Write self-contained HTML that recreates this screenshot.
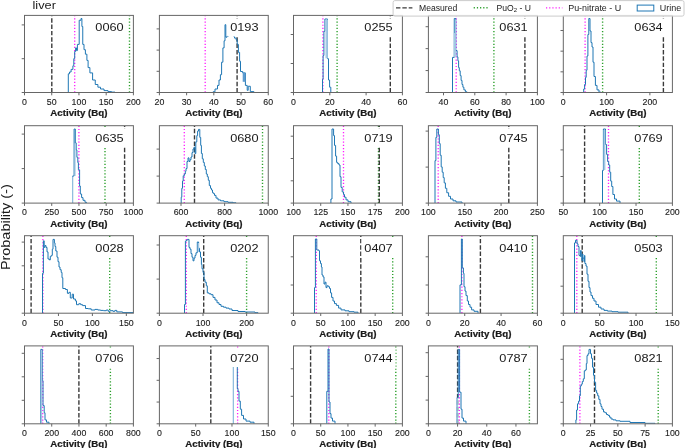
<!DOCTYPE html>
<html><head><meta charset="utf-8"><style>
html,body{margin:0;padding:0;background:#fff;}
body{width:685px;height:448px;overflow:hidden;}
svg{display:block;font-family:"Liberation Sans", sans-serif;will-change:transform;}
</style></head><body>
<svg width="685" height="448" viewBox="0 0 685 448">
<rect width="685" height="448" fill="#fff"/>
<clipPath id="c00"><rect x="24.5" y="15.4" width="108.9" height="77.1"/></clipPath>
<g clip-path="url(#c00)">
<line x1="51.8" y1="92.5" x2="51.8" y2="15.4" stroke="#3a3a3a" stroke-width="1.4" stroke-dasharray="4.43 1.92"/>
<line x1="74.7" y1="92.5" x2="74.7" y2="15.4" stroke="#ff1aff" stroke-width="1.3" stroke-dasharray="1.2 1.975"/>
<line x1="129.5" y1="92.5" x2="129.5" y2="15.4" stroke="#2ca02c" stroke-width="1.4" stroke-dasharray="1.2 1.975"/>
<path d="M68.3,92.5V73.8H69.5V72H71.1V69.4H72.9V65.8H73.8V58.6H74.7V51.5H75.6V47.9H76.5V50.6H77.4V44.4H79.2V20.25H81V18.5H81.9V26.5H82.75V44.4H84V49.7H85.4V54.2H86.9V60.4H88.1V67.6H89.9V72.9H92.6V80H95.25V84.5H97.9V87.2H100.5V89H104V90.6H108V91.6H111.5V92.1H115V92.5V92.5" fill="none" stroke="#1f77b4" stroke-width="1" stroke-linejoin="miter"/>
</g>
<rect x="92.5" y="18.5" width="34" height="18" fill="#fff"/>
<text x="95.3" y="31.2" font-size="11.6" textLength="28.4" lengthAdjust="spacingAndGlyphs" fill="#1a1a1a">0060</text>
<rect x="24.5" y="15.4" width="108.9" height="77.1" fill="none" stroke="#666" stroke-width="1"/>
<line x1="24.5" y1="92.5" x2="24.5" y2="95.3" stroke="#666" stroke-width="1"/>
<text x="24.5" y="104.8" font-size="9.9" text-anchor="middle" textLength="4.9" lengthAdjust="spacingAndGlyphs" fill="#1a1a1a" stroke="#1a1a1a" stroke-width="0.12">0</text>
<line x1="51.73" y1="92.5" x2="51.73" y2="95.3" stroke="#666" stroke-width="1"/>
<text x="51.73" y="104.8" font-size="9.9" text-anchor="middle" textLength="9.8" lengthAdjust="spacingAndGlyphs" fill="#1a1a1a" stroke="#1a1a1a" stroke-width="0.12">50</text>
<line x1="78.95" y1="92.5" x2="78.95" y2="95.3" stroke="#666" stroke-width="1"/>
<text x="78.95" y="104.8" font-size="9.9" text-anchor="middle" textLength="14.7" lengthAdjust="spacingAndGlyphs" fill="#1a1a1a" stroke="#1a1a1a" stroke-width="0.12">100</text>
<line x1="106.18" y1="92.5" x2="106.18" y2="95.3" stroke="#666" stroke-width="1"/>
<text x="106.18" y="104.8" font-size="9.9" text-anchor="middle" textLength="14.7" lengthAdjust="spacingAndGlyphs" fill="#1a1a1a" stroke="#1a1a1a" stroke-width="0.12">150</text>
<line x1="133.4" y1="92.5" x2="133.4" y2="95.3" stroke="#666" stroke-width="1"/>
<text x="133.4" y="104.8" font-size="9.9" text-anchor="middle" textLength="14.7" lengthAdjust="spacingAndGlyphs" fill="#1a1a1a" stroke="#1a1a1a" stroke-width="0.12">200</text>
<line x1="21.7" y1="92.5" x2="24.5" y2="92.5" stroke="#666" stroke-width="1"/>
<line x1="21.7" y1="58.7" x2="24.5" y2="58.7" stroke="#666" stroke-width="1"/>
<line x1="21.7" y1="24.9" x2="24.5" y2="24.9" stroke="#666" stroke-width="1"/>
<text x="78.95" y="116.1" font-size="8.6" font-weight="bold" text-anchor="middle" textLength="57.2" lengthAdjust="spacingAndGlyphs" fill="#1a1a1a" stroke="#1a1a1a" stroke-width="0.2">Activity (Bq)</text>
<clipPath id="c01"><rect x="159.4" y="15.4" width="108.85" height="77.1"/></clipPath>
<g clip-path="url(#c01)">
<line x1="205.2" y1="92.5" x2="205.2" y2="15.4" stroke="#ff1aff" stroke-width="1.3" stroke-dasharray="1.2 1.975"/>
<line x1="237.1" y1="92.5" x2="237.1" y2="15.4" stroke="#3a3a3a" stroke-width="1.4" stroke-dasharray="4.43 1.92"/>
<path d="M213,92.5V91.8H215V89H217.5V85.4H219V80H220.4V74.7H221.6V62.2H222.9V47.9H224.1V40.8H225V24.7H225.8V37.2H227V36.3H228.5V30H230V28H232V33H233.6V36.3H234.5V38.1H236.2V39.9H237.2V44.4H238.4V52.4H239.6V61.25H240.5V71.5H242.7V72.9H245.4V85.4H247.2V90.3H248.2V86.25H250.3V91.6H253.9V92.5V92.5" fill="none" stroke="#1f77b4" stroke-width="1" stroke-linejoin="miter"/>
<rect x="242.7" y="72.9" width="2.7" height="8.9" fill="#5d9bcf"/>
</g>
<rect x="227.35" y="18.5" width="34" height="18" fill="#fff"/>
<text x="230.15" y="31.2" font-size="11.6" textLength="28.4" lengthAdjust="spacingAndGlyphs" fill="#1a1a1a">0193</text>
<rect x="159.4" y="15.4" width="108.85" height="77.1" fill="none" stroke="#666" stroke-width="1"/>
<line x1="159.4" y1="92.5" x2="159.4" y2="95.3" stroke="#666" stroke-width="1"/>
<text x="159.4" y="104.8" font-size="9.9" text-anchor="middle" textLength="9.8" lengthAdjust="spacingAndGlyphs" fill="#1a1a1a" stroke="#1a1a1a" stroke-width="0.12">20</text>
<line x1="186.61" y1="92.5" x2="186.61" y2="95.3" stroke="#666" stroke-width="1"/>
<text x="186.61" y="104.8" font-size="9.9" text-anchor="middle" textLength="9.8" lengthAdjust="spacingAndGlyphs" fill="#1a1a1a" stroke="#1a1a1a" stroke-width="0.12">30</text>
<line x1="213.82" y1="92.5" x2="213.82" y2="95.3" stroke="#666" stroke-width="1"/>
<text x="213.82" y="104.8" font-size="9.9" text-anchor="middle" textLength="9.8" lengthAdjust="spacingAndGlyphs" fill="#1a1a1a" stroke="#1a1a1a" stroke-width="0.12">40</text>
<line x1="241.04" y1="92.5" x2="241.04" y2="95.3" stroke="#666" stroke-width="1"/>
<text x="241.04" y="104.8" font-size="9.9" text-anchor="middle" textLength="9.8" lengthAdjust="spacingAndGlyphs" fill="#1a1a1a" stroke="#1a1a1a" stroke-width="0.12">50</text>
<line x1="268.25" y1="92.5" x2="268.25" y2="95.3" stroke="#666" stroke-width="1"/>
<text x="268.25" y="104.8" font-size="9.9" text-anchor="middle" textLength="9.8" lengthAdjust="spacingAndGlyphs" fill="#1a1a1a" stroke="#1a1a1a" stroke-width="0.12">60</text>
<line x1="156.6" y1="92.5" x2="159.4" y2="92.5" stroke="#666" stroke-width="1"/>
<line x1="156.6" y1="71.3" x2="159.4" y2="71.3" stroke="#666" stroke-width="1"/>
<line x1="156.6" y1="50.1" x2="159.4" y2="50.1" stroke="#666" stroke-width="1"/>
<line x1="156.6" y1="28.9" x2="159.4" y2="28.9" stroke="#666" stroke-width="1"/>
<text x="213.82" y="116.1" font-size="8.6" font-weight="bold" text-anchor="middle" textLength="57.2" lengthAdjust="spacingAndGlyphs" fill="#1a1a1a" stroke="#1a1a1a" stroke-width="0.2">Activity (Bq)</text>
<clipPath id="c02"><rect x="293.5" y="15.4" width="108.9" height="77.1"/></clipPath>
<g clip-path="url(#c02)">
<line x1="322.9" y1="92.5" x2="322.9" y2="15.4" stroke="#ff1aff" stroke-width="1.3" stroke-dasharray="1.2 1.975"/>
<line x1="337.1" y1="92.5" x2="337.1" y2="15.4" stroke="#2ca02c" stroke-width="1.4" stroke-dasharray="1.2 1.975"/>
<line x1="390.3" y1="92.5" x2="390.3" y2="15.4" stroke="#3a3a3a" stroke-width="1.4" stroke-dasharray="4.43 1.92"/>
<path d="M322.5,92.5V79.2H323.1V55.5H323.9V31.3H324.9V19H327.5V58.7H328.5V80H329.6V87.2H330.8V92.5V92.5" fill="none" stroke="#1f77b4" stroke-width="1" stroke-linejoin="miter"/>
<rect x="325.5" y="19.6" width="2.4" height="38.7" fill="#a3c7e4"/>
</g>
<rect x="361.5" y="18.5" width="34" height="18" fill="#fff"/>
<text x="364.3" y="31.2" font-size="11.6" textLength="28.4" lengthAdjust="spacingAndGlyphs" fill="#1a1a1a">0255</text>
<rect x="293.5" y="15.4" width="108.9" height="77.1" fill="none" stroke="#666" stroke-width="1"/>
<line x1="293.5" y1="92.5" x2="293.5" y2="95.3" stroke="#666" stroke-width="1"/>
<text x="293.5" y="104.8" font-size="9.9" text-anchor="middle" textLength="4.9" lengthAdjust="spacingAndGlyphs" fill="#1a1a1a" stroke="#1a1a1a" stroke-width="0.12">0</text>
<line x1="329.8" y1="92.5" x2="329.8" y2="95.3" stroke="#666" stroke-width="1"/>
<text x="329.8" y="104.8" font-size="9.9" text-anchor="middle" textLength="9.8" lengthAdjust="spacingAndGlyphs" fill="#1a1a1a" stroke="#1a1a1a" stroke-width="0.12">20</text>
<line x1="366.1" y1="92.5" x2="366.1" y2="95.3" stroke="#666" stroke-width="1"/>
<text x="366.1" y="104.8" font-size="9.9" text-anchor="middle" textLength="9.8" lengthAdjust="spacingAndGlyphs" fill="#1a1a1a" stroke="#1a1a1a" stroke-width="0.12">40</text>
<line x1="402.4" y1="92.5" x2="402.4" y2="95.3" stroke="#666" stroke-width="1"/>
<text x="402.4" y="104.8" font-size="9.9" text-anchor="middle" textLength="9.8" lengthAdjust="spacingAndGlyphs" fill="#1a1a1a" stroke="#1a1a1a" stroke-width="0.12">60</text>
<line x1="290.7" y1="92.5" x2="293.5" y2="92.5" stroke="#666" stroke-width="1"/>
<line x1="290.7" y1="63.5" x2="293.5" y2="63.5" stroke="#666" stroke-width="1"/>
<line x1="290.7" y1="34.5" x2="293.5" y2="34.5" stroke="#666" stroke-width="1"/>
<text x="347.95" y="116.1" font-size="8.6" font-weight="bold" text-anchor="middle" textLength="57.2" lengthAdjust="spacingAndGlyphs" fill="#1a1a1a" stroke="#1a1a1a" stroke-width="0.2">Activity (Bq)</text>
<clipPath id="c03"><rect x="428.4" y="15.4" width="109" height="77.1"/></clipPath>
<g clip-path="url(#c03)">
<line x1="456.2" y1="92.5" x2="456.2" y2="15.4" stroke="#ff1aff" stroke-width="1.3" stroke-dasharray="1.2 1.975"/>
<line x1="493.9" y1="92.5" x2="493.9" y2="15.4" stroke="#2ca02c" stroke-width="1.4" stroke-dasharray="1.2 1.975"/>
<line x1="524.9" y1="92.5" x2="524.9" y2="15.4" stroke="#3a3a3a" stroke-width="1.4" stroke-dasharray="4.43 1.92"/>
<path d="M452.5,92.5V57.4H454.25V18.5H455.8V50.6H457.1V56.9H457.9V60.8H458.6V67.6H459.3V70.8H460.2V75.6H461.1V80.4H462V84.5H462.9V87.2H463.9V89.9H465.4V91.7H466.8V92.5V92.5" fill="none" stroke="#1f77b4" stroke-width="1" stroke-linejoin="miter"/>
<rect x="453.9" y="33" width="2" height="23.9" fill="#a3c7e4"/>
<rect x="454.9" y="19.5" width="1" height="13.5" fill="#a3c7e4"/>
</g>
<rect x="496.5" y="18.5" width="34" height="18" fill="#fff"/>
<text x="499.3" y="31.2" font-size="11.6" textLength="28.4" lengthAdjust="spacingAndGlyphs" fill="#1a1a1a">0631</text>
<rect x="428.4" y="15.4" width="109" height="77.1" fill="none" stroke="#666" stroke-width="1"/>
<line x1="443.5" y1="92.5" x2="443.5" y2="95.3" stroke="#666" stroke-width="1"/>
<text x="443.5" y="104.8" font-size="9.9" text-anchor="middle" textLength="9.8" lengthAdjust="spacingAndGlyphs" fill="#1a1a1a" stroke="#1a1a1a" stroke-width="0.12">40</text>
<line x1="474.8" y1="92.5" x2="474.8" y2="95.3" stroke="#666" stroke-width="1"/>
<text x="474.8" y="104.8" font-size="9.9" text-anchor="middle" textLength="9.8" lengthAdjust="spacingAndGlyphs" fill="#1a1a1a" stroke="#1a1a1a" stroke-width="0.12">60</text>
<line x1="506.1" y1="92.5" x2="506.1" y2="95.3" stroke="#666" stroke-width="1"/>
<text x="506.1" y="104.8" font-size="9.9" text-anchor="middle" textLength="9.8" lengthAdjust="spacingAndGlyphs" fill="#1a1a1a" stroke="#1a1a1a" stroke-width="0.12">80</text>
<line x1="537.4" y1="92.5" x2="537.4" y2="95.3" stroke="#666" stroke-width="1"/>
<text x="537.4" y="104.8" font-size="9.9" text-anchor="middle" textLength="14.7" lengthAdjust="spacingAndGlyphs" fill="#1a1a1a" stroke="#1a1a1a" stroke-width="0.12">100</text>
<line x1="425.6" y1="92.5" x2="428.4" y2="92.5" stroke="#666" stroke-width="1"/>
<line x1="425.6" y1="70.57" x2="428.4" y2="70.57" stroke="#666" stroke-width="1"/>
<line x1="425.6" y1="48.64" x2="428.4" y2="48.64" stroke="#666" stroke-width="1"/>
<line x1="425.6" y1="26.71" x2="428.4" y2="26.71" stroke="#666" stroke-width="1"/>
<text x="482.9" y="116.1" font-size="8.6" font-weight="bold" text-anchor="middle" textLength="57.2" lengthAdjust="spacingAndGlyphs" fill="#1a1a1a" stroke="#1a1a1a" stroke-width="0.2">Activity (Bq)</text>
<clipPath id="c04"><rect x="563.3" y="15.4" width="109.1" height="77.1"/></clipPath>
<g clip-path="url(#c04)">
<line x1="585.1" y1="92.5" x2="585.1" y2="15.4" stroke="#ff1aff" stroke-width="1.3" stroke-dasharray="1.2 1.975"/>
<line x1="602.6" y1="92.5" x2="602.6" y2="15.4" stroke="#2ca02c" stroke-width="1.4" stroke-dasharray="1.2 1.975"/>
<line x1="663.4" y1="92.5" x2="663.4" y2="15.4" stroke="#3a3a3a" stroke-width="1.4" stroke-dasharray="4.43 1.92"/>
<path d="M583.7,92.5V89H584.6V84.5H585.5V77.4H586.2V70.25H587V56H587.9V34.5H588.8V18.5H590V31H591V42.6H592V47H593V62.2H594V76.5H595.4V85.4H597V89.9H599V92.2H601V92.5V92.5" fill="none" stroke="#1f77b4" stroke-width="1" stroke-linejoin="miter"/>
</g>
<rect x="631.5" y="18.5" width="34" height="18" fill="#fff"/>
<text x="634.3" y="31.2" font-size="11.6" textLength="28.4" lengthAdjust="spacingAndGlyphs" fill="#1a1a1a">0634</text>
<rect x="563.3" y="15.4" width="109.1" height="77.1" fill="none" stroke="#666" stroke-width="1"/>
<line x1="563.3" y1="92.5" x2="563.3" y2="95.3" stroke="#666" stroke-width="1"/>
<text x="563.3" y="104.8" font-size="9.9" text-anchor="middle" textLength="4.9" lengthAdjust="spacingAndGlyphs" fill="#1a1a1a" stroke="#1a1a1a" stroke-width="0.12">0</text>
<line x1="606.59" y1="92.5" x2="606.59" y2="95.3" stroke="#666" stroke-width="1"/>
<text x="606.59" y="104.8" font-size="9.9" text-anchor="middle" textLength="14.7" lengthAdjust="spacingAndGlyphs" fill="#1a1a1a" stroke="#1a1a1a" stroke-width="0.12">100</text>
<line x1="649.89" y1="92.5" x2="649.89" y2="95.3" stroke="#666" stroke-width="1"/>
<text x="649.89" y="104.8" font-size="9.9" text-anchor="middle" textLength="14.7" lengthAdjust="spacingAndGlyphs" fill="#1a1a1a" stroke="#1a1a1a" stroke-width="0.12">200</text>
<line x1="560.5" y1="92.5" x2="563.3" y2="92.5" stroke="#666" stroke-width="1"/>
<line x1="560.5" y1="71.83" x2="563.3" y2="71.83" stroke="#666" stroke-width="1"/>
<line x1="560.5" y1="51.16" x2="563.3" y2="51.16" stroke="#666" stroke-width="1"/>
<line x1="560.5" y1="30.49" x2="563.3" y2="30.49" stroke="#666" stroke-width="1"/>
<text x="617.85" y="116.1" font-size="8.6" font-weight="bold" text-anchor="middle" textLength="57.2" lengthAdjust="spacingAndGlyphs" fill="#1a1a1a" stroke="#1a1a1a" stroke-width="0.2">Activity (Bq)</text>
<clipPath id="c10"><rect x="24.5" y="125.7" width="108.9" height="77.4"/></clipPath>
<g clip-path="url(#c10)">
<line x1="78.9" y1="203.1" x2="78.9" y2="125.7" stroke="#ff1aff" stroke-width="1.3" stroke-dasharray="1.2 1.975"/>
<line x1="105" y1="203.1" x2="105" y2="125.7" stroke="#2ca02c" stroke-width="1.4" stroke-dasharray="1.2 1.975"/>
<line x1="124.6" y1="203.1" x2="124.6" y2="125.7" stroke="#3a3a3a" stroke-width="1.4" stroke-dasharray="4.43 1.92"/>
<path d="M72.6,203.1V176H74.1V129H75.3V142.9H76.2V150H76.9V157.3H77.8V162.6H78.4V169.8H79.6V186H80.3V194H81.6V197.6H83V200.3H85V202.3H86.5V203.1V203.1" fill="none" stroke="#1f77b4" stroke-width="1" stroke-linejoin="miter"/>
<rect x="72.1" y="176.5" width="1" height="26.6" fill="#9cc4e3"/>
<rect x="74.6" y="143.5" width="1" height="32.5" fill="#a3c7e4"/>
</g>
<rect x="92.5" y="128.8" width="34" height="18" fill="#fff"/>
<text x="95.3" y="141.5" font-size="11.6" textLength="28.4" lengthAdjust="spacingAndGlyphs" fill="#1a1a1a">0635</text>
<rect x="24.5" y="125.7" width="108.9" height="77.4" fill="none" stroke="#666" stroke-width="1"/>
<line x1="24.5" y1="203.1" x2="24.5" y2="205.9" stroke="#666" stroke-width="1"/>
<text x="24.5" y="215.4" font-size="9.9" text-anchor="middle" textLength="4.9" lengthAdjust="spacingAndGlyphs" fill="#1a1a1a" stroke="#1a1a1a" stroke-width="0.12">0</text>
<line x1="51.73" y1="203.1" x2="51.73" y2="205.9" stroke="#666" stroke-width="1"/>
<text x="51.73" y="215.4" font-size="9.9" text-anchor="middle" textLength="14.7" lengthAdjust="spacingAndGlyphs" fill="#1a1a1a" stroke="#1a1a1a" stroke-width="0.12">250</text>
<line x1="78.95" y1="203.1" x2="78.95" y2="205.9" stroke="#666" stroke-width="1"/>
<text x="78.95" y="215.4" font-size="9.9" text-anchor="middle" textLength="14.7" lengthAdjust="spacingAndGlyphs" fill="#1a1a1a" stroke="#1a1a1a" stroke-width="0.12">500</text>
<line x1="106.18" y1="203.1" x2="106.18" y2="205.9" stroke="#666" stroke-width="1"/>
<text x="106.18" y="215.4" font-size="9.9" text-anchor="middle" textLength="14.7" lengthAdjust="spacingAndGlyphs" fill="#1a1a1a" stroke="#1a1a1a" stroke-width="0.12">750</text>
<line x1="133.4" y1="203.1" x2="133.4" y2="205.9" stroke="#666" stroke-width="1"/>
<text x="133.4" y="215.4" font-size="9.9" text-anchor="middle" textLength="19.6" lengthAdjust="spacingAndGlyphs" fill="#1a1a1a" stroke="#1a1a1a" stroke-width="0.12">1000</text>
<line x1="21.7" y1="203.1" x2="24.5" y2="203.1" stroke="#666" stroke-width="1"/>
<line x1="21.7" y1="168.6" x2="24.5" y2="168.6" stroke="#666" stroke-width="1"/>
<line x1="21.7" y1="134.1" x2="24.5" y2="134.1" stroke="#666" stroke-width="1"/>
<text x="78.95" y="226.7" font-size="8.6" font-weight="bold" text-anchor="middle" textLength="57.2" lengthAdjust="spacingAndGlyphs" fill="#1a1a1a" stroke="#1a1a1a" stroke-width="0.2">Activity (Bq)</text>
<clipPath id="c11"><rect x="159.4" y="125.7" width="108.85" height="77.4"/></clipPath>
<g clip-path="url(#c11)">
<line x1="184.3" y1="203.1" x2="184.3" y2="125.7" stroke="#ff1aff" stroke-width="1.3" stroke-dasharray="1.2 1.975"/>
<line x1="194.5" y1="203.1" x2="194.5" y2="125.7" stroke="#3a3a3a" stroke-width="1.4" stroke-dasharray="4.43 1.92"/>
<line x1="262.5" y1="203.1" x2="262.5" y2="125.7" stroke="#2ca02c" stroke-width="1.4" stroke-dasharray="1.2 1.975"/>
<path d="M181.2,203.1V197.2H181.8V188.3H182.5V181.1H183.2V175.8H184.3V174H185.3V171.3H186V168.6H187V161.5H188V157.9H189V161.5H190V159.7H191V157H192V152.6H193V149H194V147.2H195V153.5H195.8V141.9H196.8V135.6H197.6V131.1H198.5V129.4H199.8V137.4H200.7V145.4H201.4V153.5H202.3V158.8H203.3V162.4H204.3V166H205.3V169.5H206.3V174H207.3V176.7H208.3V180.25H209.3V185.6H210.5V188.3H211.5V190H212.5V192.75H213.5V193.6H214.5V195.4H216V198.1H218V199.9H220.5V200.8H224V201.7H228V202.3H233V202.8H236V203.1V203.1" fill="none" stroke="#1f77b4" stroke-width="1" stroke-linejoin="miter"/>
</g>
<rect x="227.35" y="128.8" width="34" height="18" fill="#fff"/>
<text x="230.15" y="141.5" font-size="11.6" textLength="28.4" lengthAdjust="spacingAndGlyphs" fill="#1a1a1a">0680</text>
<rect x="159.4" y="125.7" width="108.85" height="77.4" fill="none" stroke="#666" stroke-width="1"/>
<line x1="181" y1="203.1" x2="181" y2="205.9" stroke="#666" stroke-width="1"/>
<text x="181" y="215.4" font-size="9.9" text-anchor="middle" textLength="14.7" lengthAdjust="spacingAndGlyphs" fill="#1a1a1a" stroke="#1a1a1a" stroke-width="0.12">600</text>
<line x1="224.62" y1="203.1" x2="224.62" y2="205.9" stroke="#666" stroke-width="1"/>
<text x="224.62" y="215.4" font-size="9.9" text-anchor="middle" textLength="14.7" lengthAdjust="spacingAndGlyphs" fill="#1a1a1a" stroke="#1a1a1a" stroke-width="0.12">800</text>
<line x1="268.25" y1="203.1" x2="268.25" y2="205.9" stroke="#666" stroke-width="1"/>
<text x="268.25" y="215.4" font-size="9.9" text-anchor="middle" textLength="19.6" lengthAdjust="spacingAndGlyphs" fill="#1a1a1a" stroke="#1a1a1a" stroke-width="0.12">1000</text>
<line x1="156.6" y1="203.1" x2="159.4" y2="203.1" stroke="#666" stroke-width="1"/>
<line x1="156.6" y1="176.1" x2="159.4" y2="176.1" stroke="#666" stroke-width="1"/>
<line x1="156.6" y1="149.1" x2="159.4" y2="149.1" stroke="#666" stroke-width="1"/>
<text x="213.82" y="226.7" font-size="8.6" font-weight="bold" text-anchor="middle" textLength="57.2" lengthAdjust="spacingAndGlyphs" fill="#1a1a1a" stroke="#1a1a1a" stroke-width="0.2">Activity (Bq)</text>
<clipPath id="c12"><rect x="293.5" y="125.7" width="108.9" height="77.4"/></clipPath>
<g clip-path="url(#c12)">
<line x1="343.5" y1="203.1" x2="343.5" y2="125.7" stroke="#ff1aff" stroke-width="1.3" stroke-dasharray="1.2 1.975"/>
<line x1="378.5" y1="203.1" x2="378.5" y2="125.7" stroke="#2ca02c" stroke-width="1.4" stroke-dasharray="1.2 1.975"/>
<line x1="379.3" y1="203.1" x2="379.3" y2="125.7" stroke="#3a3a3a" stroke-width="1.4" stroke-dasharray="4.43 1.92"/>
<path d="M330.9,203.1V199H332V129H333.6V135.6H334.5V145.4H335.6V156.1H336.6V162.4H337.7V163.6H339V165H340V176.7H341V187.4H342.2V191.9H343.5V194.5H344.5V197.2H346V199.9H348V201.7H351V203.1V203.1" fill="none" stroke="#1f77b4" stroke-width="1" stroke-linejoin="miter"/>
</g>
<rect x="361.5" y="128.8" width="34" height="18" fill="#fff"/>
<text x="364.3" y="141.5" font-size="11.6" textLength="28.4" lengthAdjust="spacingAndGlyphs" fill="#1a1a1a">0719</text>
<rect x="293.5" y="125.7" width="108.9" height="77.4" fill="none" stroke="#666" stroke-width="1"/>
<line x1="293.5" y1="203.1" x2="293.5" y2="205.9" stroke="#666" stroke-width="1"/>
<text x="293.5" y="215.4" font-size="9.9" text-anchor="middle" textLength="14.7" lengthAdjust="spacingAndGlyphs" fill="#1a1a1a" stroke="#1a1a1a" stroke-width="0.12">100</text>
<line x1="320.73" y1="203.1" x2="320.73" y2="205.9" stroke="#666" stroke-width="1"/>
<text x="320.73" y="215.4" font-size="9.9" text-anchor="middle" textLength="14.7" lengthAdjust="spacingAndGlyphs" fill="#1a1a1a" stroke="#1a1a1a" stroke-width="0.12">125</text>
<line x1="347.95" y1="203.1" x2="347.95" y2="205.9" stroke="#666" stroke-width="1"/>
<text x="347.95" y="215.4" font-size="9.9" text-anchor="middle" textLength="14.7" lengthAdjust="spacingAndGlyphs" fill="#1a1a1a" stroke="#1a1a1a" stroke-width="0.12">150</text>
<line x1="375.17" y1="203.1" x2="375.17" y2="205.9" stroke="#666" stroke-width="1"/>
<text x="375.17" y="215.4" font-size="9.9" text-anchor="middle" textLength="14.7" lengthAdjust="spacingAndGlyphs" fill="#1a1a1a" stroke="#1a1a1a" stroke-width="0.12">175</text>
<line x1="402.4" y1="203.1" x2="402.4" y2="205.9" stroke="#666" stroke-width="1"/>
<text x="402.4" y="215.4" font-size="9.9" text-anchor="middle" textLength="14.7" lengthAdjust="spacingAndGlyphs" fill="#1a1a1a" stroke="#1a1a1a" stroke-width="0.12">200</text>
<line x1="290.7" y1="203.1" x2="293.5" y2="203.1" stroke="#666" stroke-width="1"/>
<line x1="290.7" y1="180.8" x2="293.5" y2="180.8" stroke="#666" stroke-width="1"/>
<line x1="290.7" y1="158.5" x2="293.5" y2="158.5" stroke="#666" stroke-width="1"/>
<line x1="290.7" y1="136.2" x2="293.5" y2="136.2" stroke="#666" stroke-width="1"/>
<text x="347.95" y="226.7" font-size="8.6" font-weight="bold" text-anchor="middle" textLength="57.2" lengthAdjust="spacingAndGlyphs" fill="#1a1a1a" stroke="#1a1a1a" stroke-width="0.2">Activity (Bq)</text>
<clipPath id="c13"><rect x="428.4" y="125.7" width="109" height="77.4"/></clipPath>
<g clip-path="url(#c13)">
<line x1="438.2" y1="203.1" x2="438.2" y2="125.7" stroke="#ff1aff" stroke-width="1.3" stroke-dasharray="1.2 1.975"/>
<line x1="508.8" y1="203.1" x2="508.8" y2="125.7" stroke="#3a3a3a" stroke-width="1.4" stroke-dasharray="4.43 1.92"/>
<path d="M435,203.1V160.6H435.9V137.4H436.8V129H438.4V134.7H439.3V143.6H440.2V155.25H441.2V166.9H442.2V172.2H443.2V177.6H444.2V182.9H445.4V188.3H446.8V192.75H448.6V196.3H450.5V199H453V200.8H456V202H462V203.1V203.1" fill="none" stroke="#1f77b4" stroke-width="1" stroke-linejoin="miter"/>
</g>
<rect x="496.5" y="128.8" width="34" height="18" fill="#fff"/>
<text x="499.3" y="141.5" font-size="11.6" textLength="28.4" lengthAdjust="spacingAndGlyphs" fill="#1a1a1a">0745</text>
<rect x="428.4" y="125.7" width="109" height="77.4" fill="none" stroke="#666" stroke-width="1"/>
<line x1="428.4" y1="203.1" x2="428.4" y2="205.9" stroke="#666" stroke-width="1"/>
<text x="428.4" y="215.4" font-size="9.9" text-anchor="middle" textLength="14.7" lengthAdjust="spacingAndGlyphs" fill="#1a1a1a" stroke="#1a1a1a" stroke-width="0.12">100</text>
<line x1="464.73" y1="203.1" x2="464.73" y2="205.9" stroke="#666" stroke-width="1"/>
<text x="464.73" y="215.4" font-size="9.9" text-anchor="middle" textLength="14.7" lengthAdjust="spacingAndGlyphs" fill="#1a1a1a" stroke="#1a1a1a" stroke-width="0.12">150</text>
<line x1="501.07" y1="203.1" x2="501.07" y2="205.9" stroke="#666" stroke-width="1"/>
<text x="501.07" y="215.4" font-size="9.9" text-anchor="middle" textLength="14.7" lengthAdjust="spacingAndGlyphs" fill="#1a1a1a" stroke="#1a1a1a" stroke-width="0.12">200</text>
<line x1="537.4" y1="203.1" x2="537.4" y2="205.9" stroke="#666" stroke-width="1"/>
<text x="537.4" y="215.4" font-size="9.9" text-anchor="middle" textLength="14.7" lengthAdjust="spacingAndGlyphs" fill="#1a1a1a" stroke="#1a1a1a" stroke-width="0.12">250</text>
<line x1="425.6" y1="203.1" x2="428.4" y2="203.1" stroke="#666" stroke-width="1"/>
<line x1="425.6" y1="167.1" x2="428.4" y2="167.1" stroke="#666" stroke-width="1"/>
<line x1="425.6" y1="131.1" x2="428.4" y2="131.1" stroke="#666" stroke-width="1"/>
<text x="482.9" y="226.7" font-size="8.6" font-weight="bold" text-anchor="middle" textLength="57.2" lengthAdjust="spacingAndGlyphs" fill="#1a1a1a" stroke="#1a1a1a" stroke-width="0.2">Activity (Bq)</text>
<clipPath id="c14"><rect x="563.3" y="125.7" width="109.1" height="77.4"/></clipPath>
<g clip-path="url(#c14)">
<line x1="584.6" y1="203.1" x2="584.6" y2="125.7" stroke="#3a3a3a" stroke-width="1.4" stroke-dasharray="4.43 1.92"/>
<line x1="608.5" y1="203.1" x2="608.5" y2="125.7" stroke="#ff1aff" stroke-width="1.3" stroke-dasharray="1.2 1.975"/>
<line x1="639.3" y1="203.1" x2="639.3" y2="125.7" stroke="#2ca02c" stroke-width="1.4" stroke-dasharray="1.2 1.975"/>
<path d="M602.5,203.1V170.4H603.4V129H605.5V144.5H606.6V154.4H607.6V161.5H608.7V165H609.7V172.2H610.7V181.1H611.7V186.5H612.9V194.5H614.5V199H616.5V201.1H620V203.1V203.1" fill="none" stroke="#1f77b4" stroke-width="1" stroke-linejoin="miter"/>
<rect x="603.5" y="130" width="1.9" height="40" fill="#a3c7e4"/>
</g>
<rect x="631.5" y="128.8" width="34" height="18" fill="#fff"/>
<text x="634.3" y="141.5" font-size="11.6" textLength="28.4" lengthAdjust="spacingAndGlyphs" fill="#1a1a1a">0769</text>
<rect x="563.3" y="125.7" width="109.1" height="77.4" fill="none" stroke="#666" stroke-width="1"/>
<line x1="563.3" y1="203.1" x2="563.3" y2="205.9" stroke="#666" stroke-width="1"/>
<text x="563.3" y="215.4" font-size="9.9" text-anchor="middle" textLength="9.8" lengthAdjust="spacingAndGlyphs" fill="#1a1a1a" stroke="#1a1a1a" stroke-width="0.12">50</text>
<line x1="599.67" y1="203.1" x2="599.67" y2="205.9" stroke="#666" stroke-width="1"/>
<text x="599.67" y="215.4" font-size="9.9" text-anchor="middle" textLength="14.7" lengthAdjust="spacingAndGlyphs" fill="#1a1a1a" stroke="#1a1a1a" stroke-width="0.12">100</text>
<line x1="636.03" y1="203.1" x2="636.03" y2="205.9" stroke="#666" stroke-width="1"/>
<text x="636.03" y="215.4" font-size="9.9" text-anchor="middle" textLength="14.7" lengthAdjust="spacingAndGlyphs" fill="#1a1a1a" stroke="#1a1a1a" stroke-width="0.12">150</text>
<line x1="672.4" y1="203.1" x2="672.4" y2="205.9" stroke="#666" stroke-width="1"/>
<text x="672.4" y="215.4" font-size="9.9" text-anchor="middle" textLength="14.7" lengthAdjust="spacingAndGlyphs" fill="#1a1a1a" stroke="#1a1a1a" stroke-width="0.12">200</text>
<line x1="560.5" y1="203.1" x2="563.3" y2="203.1" stroke="#666" stroke-width="1"/>
<line x1="560.5" y1="176.5" x2="563.3" y2="176.5" stroke="#666" stroke-width="1"/>
<line x1="560.5" y1="149.9" x2="563.3" y2="149.9" stroke="#666" stroke-width="1"/>
<text x="617.85" y="226.7" font-size="8.6" font-weight="bold" text-anchor="middle" textLength="57.2" lengthAdjust="spacingAndGlyphs" fill="#1a1a1a" stroke="#1a1a1a" stroke-width="0.2">Activity (Bq)</text>
<clipPath id="c20"><rect x="24.5" y="235.7" width="108.9" height="77.5"/></clipPath>
<g clip-path="url(#c20)">
<line x1="31.1" y1="313.2" x2="31.1" y2="235.7" stroke="#3a3a3a" stroke-width="1.4" stroke-dasharray="4.43 1.92"/>
<line x1="42.9" y1="313.2" x2="42.9" y2="235.7" stroke="#ff1aff" stroke-width="1.3" stroke-dasharray="1.2 1.975"/>
<line x1="109.7" y1="313.2" x2="109.7" y2="235.7" stroke="#2ca02c" stroke-width="1.4" stroke-dasharray="1.2 1.975"/>
<path d="M42.5,313.2V273.3H43.4V240.8H44.2V247.4H45V245.6H46V247.4H47V251.9H48V259H49.4V259.9H50.3V256.3H51.4V255.4H52.3V249.2H53V239.4H54.4V242.9H55V246.5H55.8V251H57V257.2H58V261.7H59V267H60V269.7H61.2V272.4H62V277.75H62.8V288.5H65.5V289.5H67.4V293.3H69V292.3H70.3V298H72.2V294.2H73.5V299H75.4V300.9H76.5V304.7H78.8V303.7H80.7V304.7H82.6V305.6H85.5V308.5H88.3V308.8H91.2V310H95V309.4H97.8V310H100.6V310.4H103.5V310.7H106.3V310H108.2V311.3H110.1V310.7H113V311.3H114.9V310.4H116.8V311.9H122.5V312.6H133.4V313V313.2" fill="none" stroke="#1f77b4" stroke-width="1" stroke-linejoin="miter"/>
</g>
<rect x="92.5" y="238.8" width="34" height="18" fill="#fff"/>
<text x="95.3" y="251.5" font-size="11.6" textLength="28.4" lengthAdjust="spacingAndGlyphs" fill="#1a1a1a">0028</text>
<rect x="24.5" y="235.7" width="108.9" height="77.5" fill="none" stroke="#666" stroke-width="1"/>
<line x1="24.5" y1="313.2" x2="24.5" y2="316" stroke="#666" stroke-width="1"/>
<text x="24.5" y="325.5" font-size="9.9" text-anchor="middle" textLength="4.9" lengthAdjust="spacingAndGlyphs" fill="#1a1a1a" stroke="#1a1a1a" stroke-width="0.12">0</text>
<line x1="58.45" y1="313.2" x2="58.45" y2="316" stroke="#666" stroke-width="1"/>
<text x="58.45" y="325.5" font-size="9.9" text-anchor="middle" textLength="9.8" lengthAdjust="spacingAndGlyphs" fill="#1a1a1a" stroke="#1a1a1a" stroke-width="0.12">50</text>
<line x1="92.39" y1="313.2" x2="92.39" y2="316" stroke="#666" stroke-width="1"/>
<text x="92.39" y="325.5" font-size="9.9" text-anchor="middle" textLength="14.7" lengthAdjust="spacingAndGlyphs" fill="#1a1a1a" stroke="#1a1a1a" stroke-width="0.12">100</text>
<line x1="126.34" y1="313.2" x2="126.34" y2="316" stroke="#666" stroke-width="1"/>
<text x="126.34" y="325.5" font-size="9.9" text-anchor="middle" textLength="14.7" lengthAdjust="spacingAndGlyphs" fill="#1a1a1a" stroke="#1a1a1a" stroke-width="0.12">150</text>
<line x1="21.7" y1="313.2" x2="24.5" y2="313.2" stroke="#666" stroke-width="1"/>
<line x1="21.7" y1="289.5" x2="24.5" y2="289.5" stroke="#666" stroke-width="1"/>
<line x1="21.7" y1="265.8" x2="24.5" y2="265.8" stroke="#666" stroke-width="1"/>
<line x1="21.7" y1="242.1" x2="24.5" y2="242.1" stroke="#666" stroke-width="1"/>
<text x="78.95" y="336.8" font-size="8.6" font-weight="bold" text-anchor="middle" textLength="57.2" lengthAdjust="spacingAndGlyphs" fill="#1a1a1a" stroke="#1a1a1a" stroke-width="0.2">Activity (Bq)</text>
<clipPath id="c21"><rect x="159.4" y="235.7" width="108.85" height="77.5"/></clipPath>
<g clip-path="url(#c21)">
<line x1="186.3" y1="313.2" x2="186.3" y2="235.7" stroke="#ff1aff" stroke-width="1.3" stroke-dasharray="1.2 1.975"/>
<line x1="203.7" y1="313.2" x2="203.7" y2="235.7" stroke="#3a3a3a" stroke-width="1.4" stroke-dasharray="4.43 1.92"/>
<line x1="246.6" y1="313.2" x2="246.6" y2="235.7" stroke="#2ca02c" stroke-width="1.4" stroke-dasharray="1.2 1.975"/>
<path d="M184.5,313.2V304.5H185.4V241.1H186.4V240.25H187.3V239.4H189V247.4H190V249.2H191V253.6H192V257.2H193V260.8H194V258.1H195V255.4H196V252.75H197.3V242H198.6V248.3H199.5V251.9H200.5V257.2H201.4V264.4H202V268.8H203V272.4H204V279.5H205V282.2H206.3V285.8H207.3V292.9H209V293.8H211V294.7H213V297.4H215V300H217V302.75H219V304.5H221V306.3H223.5V307.2H226V308.1H229V309H232V310.5H238V311.5H245V312H255V312.7H258V313.2V313.2" fill="none" stroke="#1f77b4" stroke-width="1" stroke-linejoin="miter"/>
<rect x="197.8" y="243" width="1.2" height="9" fill="#a3c7e4"/>
</g>
<rect x="227.35" y="238.8" width="34" height="18" fill="#fff"/>
<text x="230.15" y="251.5" font-size="11.6" textLength="28.4" lengthAdjust="spacingAndGlyphs" fill="#1a1a1a">0202</text>
<rect x="159.4" y="235.7" width="108.85" height="77.5" fill="none" stroke="#666" stroke-width="1"/>
<line x1="159.4" y1="313.2" x2="159.4" y2="316" stroke="#666" stroke-width="1"/>
<text x="159.4" y="325.5" font-size="9.9" text-anchor="middle" textLength="4.9" lengthAdjust="spacingAndGlyphs" fill="#1a1a1a" stroke="#1a1a1a" stroke-width="0.12">0</text>
<line x1="203.03" y1="313.2" x2="203.03" y2="316" stroke="#666" stroke-width="1"/>
<text x="203.03" y="325.5" font-size="9.9" text-anchor="middle" textLength="14.7" lengthAdjust="spacingAndGlyphs" fill="#1a1a1a" stroke="#1a1a1a" stroke-width="0.12">100</text>
<line x1="246.65" y1="313.2" x2="246.65" y2="316" stroke="#666" stroke-width="1"/>
<text x="246.65" y="325.5" font-size="9.9" text-anchor="middle" textLength="14.7" lengthAdjust="spacingAndGlyphs" fill="#1a1a1a" stroke="#1a1a1a" stroke-width="0.12">200</text>
<line x1="156.6" y1="313.2" x2="159.4" y2="313.2" stroke="#666" stroke-width="1"/>
<line x1="156.6" y1="279.1" x2="159.4" y2="279.1" stroke="#666" stroke-width="1"/>
<line x1="156.6" y1="245" x2="159.4" y2="245" stroke="#666" stroke-width="1"/>
<text x="213.82" y="336.8" font-size="8.6" font-weight="bold" text-anchor="middle" textLength="57.2" lengthAdjust="spacingAndGlyphs" fill="#1a1a1a" stroke="#1a1a1a" stroke-width="0.2">Activity (Bq)</text>
<clipPath id="c22"><rect x="293.5" y="235.7" width="108.9" height="77.5"/></clipPath>
<g clip-path="url(#c22)">
<line x1="316.25" y1="313.2" x2="316.25" y2="235.7" stroke="#ff1aff" stroke-width="1.3" stroke-dasharray="1.2 1.975"/>
<line x1="360.8" y1="313.2" x2="360.8" y2="235.7" stroke="#3a3a3a" stroke-width="1.4" stroke-dasharray="4.43 1.92"/>
<line x1="392.7" y1="313.2" x2="392.7" y2="235.7" stroke="#2ca02c" stroke-width="1.4" stroke-dasharray="1.2 1.975"/>
<path d="M314.5,313.2V287.6H315.4V239H316.8V250H319V251H319.5V260.8H320.5V263.5H321.4V267H322V275H323V276.9H324V284H325V282.2H326V287.6H327V285.8H328.4V286.7H329.5V288.5H330.5V292.9H331.6V297.4H333V301H334.5V303.6H336.4V305.4H338.6V308.1H341V309.9H345V310.8H349V311.7H354V312.2H358V313.2V313.2" fill="none" stroke="#1f77b4" stroke-width="1" stroke-linejoin="miter"/>
</g>
<rect x="361.5" y="238.8" width="34" height="18" fill="#fff"/>
<text x="364.3" y="251.5" font-size="11.6" textLength="28.4" lengthAdjust="spacingAndGlyphs" fill="#1a1a1a">0407</text>
<rect x="293.5" y="235.7" width="108.9" height="77.5" fill="none" stroke="#666" stroke-width="1"/>
<line x1="293.5" y1="313.2" x2="293.5" y2="316" stroke="#666" stroke-width="1"/>
<text x="293.5" y="325.5" font-size="9.9" text-anchor="middle" textLength="4.9" lengthAdjust="spacingAndGlyphs" fill="#1a1a1a" stroke="#1a1a1a" stroke-width="0.12">0</text>
<line x1="320.73" y1="313.2" x2="320.73" y2="316" stroke="#666" stroke-width="1"/>
<text x="320.73" y="325.5" font-size="9.9" text-anchor="middle" textLength="9.8" lengthAdjust="spacingAndGlyphs" fill="#1a1a1a" stroke="#1a1a1a" stroke-width="0.12">50</text>
<line x1="347.95" y1="313.2" x2="347.95" y2="316" stroke="#666" stroke-width="1"/>
<text x="347.95" y="325.5" font-size="9.9" text-anchor="middle" textLength="14.7" lengthAdjust="spacingAndGlyphs" fill="#1a1a1a" stroke="#1a1a1a" stroke-width="0.12">100</text>
<line x1="375.17" y1="313.2" x2="375.17" y2="316" stroke="#666" stroke-width="1"/>
<text x="375.17" y="325.5" font-size="9.9" text-anchor="middle" textLength="14.7" lengthAdjust="spacingAndGlyphs" fill="#1a1a1a" stroke="#1a1a1a" stroke-width="0.12">150</text>
<line x1="402.4" y1="313.2" x2="402.4" y2="316" stroke="#666" stroke-width="1"/>
<text x="402.4" y="325.5" font-size="9.9" text-anchor="middle" textLength="14.7" lengthAdjust="spacingAndGlyphs" fill="#1a1a1a" stroke="#1a1a1a" stroke-width="0.12">200</text>
<line x1="290.7" y1="313.2" x2="293.5" y2="313.2" stroke="#666" stroke-width="1"/>
<line x1="290.7" y1="285" x2="293.5" y2="285" stroke="#666" stroke-width="1"/>
<line x1="290.7" y1="256.8" x2="293.5" y2="256.8" stroke="#666" stroke-width="1"/>
<text x="347.95" y="336.8" font-size="8.6" font-weight="bold" text-anchor="middle" textLength="57.2" lengthAdjust="spacingAndGlyphs" fill="#1a1a1a" stroke="#1a1a1a" stroke-width="0.2">Activity (Bq)</text>
<clipPath id="c23"><rect x="428.4" y="235.7" width="109" height="77.5"/></clipPath>
<g clip-path="url(#c23)">
<line x1="461.9" y1="313.2" x2="461.9" y2="235.7" stroke="#ff1aff" stroke-width="1.3" stroke-dasharray="1.2 1.975"/>
<line x1="480.4" y1="313.2" x2="480.4" y2="235.7" stroke="#3a3a3a" stroke-width="1.4" stroke-dasharray="4.43 1.92"/>
<line x1="532.5" y1="313.2" x2="532.5" y2="235.7" stroke="#2ca02c" stroke-width="1.4" stroke-dasharray="1.2 1.975"/>
<path d="M460,313.2V284.9H461.4V239H462.3V267.9H463.4V273.3H464V286.7H465V291.1H466V295.6H467.3V301H468.5V304.5H470V307.2H471.6V309.9H474V311.3H478V313.2V313.2" fill="none" stroke="#1f77b4" stroke-width="1" stroke-linejoin="miter"/>
</g>
<rect x="496.5" y="238.8" width="34" height="18" fill="#fff"/>
<text x="499.3" y="251.5" font-size="11.6" textLength="28.4" lengthAdjust="spacingAndGlyphs" fill="#1a1a1a">0410</text>
<rect x="428.4" y="235.7" width="109" height="77.5" fill="none" stroke="#666" stroke-width="1"/>
<line x1="428.4" y1="313.2" x2="428.4" y2="316" stroke="#666" stroke-width="1"/>
<text x="428.4" y="325.5" font-size="9.9" text-anchor="middle" textLength="4.9" lengthAdjust="spacingAndGlyphs" fill="#1a1a1a" stroke="#1a1a1a" stroke-width="0.12">0</text>
<line x1="464.73" y1="313.2" x2="464.73" y2="316" stroke="#666" stroke-width="1"/>
<text x="464.73" y="325.5" font-size="9.9" text-anchor="middle" textLength="9.8" lengthAdjust="spacingAndGlyphs" fill="#1a1a1a" stroke="#1a1a1a" stroke-width="0.12">20</text>
<line x1="501.07" y1="313.2" x2="501.07" y2="316" stroke="#666" stroke-width="1"/>
<text x="501.07" y="325.5" font-size="9.9" text-anchor="middle" textLength="9.8" lengthAdjust="spacingAndGlyphs" fill="#1a1a1a" stroke="#1a1a1a" stroke-width="0.12">40</text>
<line x1="537.4" y1="313.2" x2="537.4" y2="316" stroke="#666" stroke-width="1"/>
<text x="537.4" y="325.5" font-size="9.9" text-anchor="middle" textLength="9.8" lengthAdjust="spacingAndGlyphs" fill="#1a1a1a" stroke="#1a1a1a" stroke-width="0.12">60</text>
<line x1="425.6" y1="313.2" x2="428.4" y2="313.2" stroke="#666" stroke-width="1"/>
<line x1="425.6" y1="285" x2="428.4" y2="285" stroke="#666" stroke-width="1"/>
<line x1="425.6" y1="256.8" x2="428.4" y2="256.8" stroke="#666" stroke-width="1"/>
<text x="482.9" y="336.8" font-size="8.6" font-weight="bold" text-anchor="middle" textLength="57.2" lengthAdjust="spacingAndGlyphs" fill="#1a1a1a" stroke="#1a1a1a" stroke-width="0.2">Activity (Bq)</text>
<clipPath id="c24"><rect x="563.3" y="235.7" width="109.1" height="77.5"/></clipPath>
<g clip-path="url(#c24)">
<line x1="576.8" y1="313.2" x2="576.8" y2="235.7" stroke="#ff1aff" stroke-width="1.3" stroke-dasharray="1.2 1.975"/>
<line x1="582.2" y1="313.2" x2="582.2" y2="235.7" stroke="#3a3a3a" stroke-width="1.4" stroke-dasharray="4.43 1.92"/>
<line x1="656.3" y1="313.2" x2="656.3" y2="235.7" stroke="#2ca02c" stroke-width="1.4" stroke-dasharray="1.2 1.975"/>
<path d="M574.5,313.2V242.9H575.5V240.25H577V243.8H578V246.5H579V255.4H580V256.3H580.6V250.5H581.2V257H582V260.8H582.4V254H582.9V258.1H584V261.7H584.4V255.5H584.9V263.5H586V266.1H587V274.2H588V281.3H589V287.6H590V292H591V295.6H592.5V298.3H594V301H596V304.5H598.5V307.2H601V309H604V310.4H607.5V311.1H612V311.7H618V312.2H628V313.2V313.2" fill="none" stroke="#1f77b4" stroke-width="1" stroke-linejoin="miter"/>
</g>
<rect x="631.5" y="238.8" width="34" height="18" fill="#fff"/>
<text x="634.3" y="251.5" font-size="11.6" textLength="28.4" lengthAdjust="spacingAndGlyphs" fill="#1a1a1a">0503</text>
<rect x="563.3" y="235.7" width="109.1" height="77.5" fill="none" stroke="#666" stroke-width="1"/>
<line x1="563.3" y1="313.2" x2="563.3" y2="316" stroke="#666" stroke-width="1"/>
<text x="563.3" y="325.5" font-size="9.9" text-anchor="middle" textLength="4.9" lengthAdjust="spacingAndGlyphs" fill="#1a1a1a" stroke="#1a1a1a" stroke-width="0.12">0</text>
<line x1="599.67" y1="313.2" x2="599.67" y2="316" stroke="#666" stroke-width="1"/>
<text x="599.67" y="325.5" font-size="9.9" text-anchor="middle" textLength="9.8" lengthAdjust="spacingAndGlyphs" fill="#1a1a1a" stroke="#1a1a1a" stroke-width="0.12">50</text>
<line x1="636.03" y1="313.2" x2="636.03" y2="316" stroke="#666" stroke-width="1"/>
<text x="636.03" y="325.5" font-size="9.9" text-anchor="middle" textLength="14.7" lengthAdjust="spacingAndGlyphs" fill="#1a1a1a" stroke="#1a1a1a" stroke-width="0.12">100</text>
<line x1="672.4" y1="313.2" x2="672.4" y2="316" stroke="#666" stroke-width="1"/>
<text x="672.4" y="325.5" font-size="9.9" text-anchor="middle" textLength="14.7" lengthAdjust="spacingAndGlyphs" fill="#1a1a1a" stroke="#1a1a1a" stroke-width="0.12">150</text>
<line x1="560.5" y1="313.2" x2="563.3" y2="313.2" stroke="#666" stroke-width="1"/>
<line x1="560.5" y1="286.2" x2="563.3" y2="286.2" stroke="#666" stroke-width="1"/>
<line x1="560.5" y1="259.2" x2="563.3" y2="259.2" stroke="#666" stroke-width="1"/>
<text x="617.85" y="336.8" font-size="8.6" font-weight="bold" text-anchor="middle" textLength="57.2" lengthAdjust="spacingAndGlyphs" fill="#1a1a1a" stroke="#1a1a1a" stroke-width="0.2">Activity (Bq)</text>
<clipPath id="c30"><rect x="24.5" y="345.9" width="108.9" height="77.9"/></clipPath>
<g clip-path="url(#c30)">
<line x1="42.7" y1="423.8" x2="42.7" y2="345.9" stroke="#ff1aff" stroke-width="1.3" stroke-dasharray="1.2 1.975"/>
<line x1="78.9" y1="423.8" x2="78.9" y2="345.9" stroke="#3a3a3a" stroke-width="1.4" stroke-dasharray="4.43 1.92"/>
<line x1="110.4" y1="423.8" x2="110.4" y2="345.9" stroke="#2ca02c" stroke-width="1.4" stroke-dasharray="1.2 1.975"/>
<path d="M40.8,423.8V349.4H42.3V380.6H43V405.6H44.2V412.75H45V419.9H46.5V422.2H49V423.8V423.8" fill="none" stroke="#1f77b4" stroke-width="1" stroke-linejoin="miter"/>
<rect x="40.9" y="350" width="1.3" height="73" fill="#a3c7e4"/>
</g>
<rect x="92.5" y="349" width="34" height="18" fill="#fff"/>
<text x="95.3" y="361.7" font-size="11.6" textLength="28.4" lengthAdjust="spacingAndGlyphs" fill="#1a1a1a">0706</text>
<rect x="24.5" y="345.9" width="108.9" height="77.9" fill="none" stroke="#666" stroke-width="1"/>
<line x1="24.5" y1="423.8" x2="24.5" y2="426.6" stroke="#666" stroke-width="1"/>
<text x="24.5" y="436.1" font-size="9.9" text-anchor="middle" textLength="4.9" lengthAdjust="spacingAndGlyphs" fill="#1a1a1a" stroke="#1a1a1a" stroke-width="0.12">0</text>
<line x1="51.73" y1="423.8" x2="51.73" y2="426.6" stroke="#666" stroke-width="1"/>
<text x="51.73" y="436.1" font-size="9.9" text-anchor="middle" textLength="14.7" lengthAdjust="spacingAndGlyphs" fill="#1a1a1a" stroke="#1a1a1a" stroke-width="0.12">200</text>
<line x1="78.95" y1="423.8" x2="78.95" y2="426.6" stroke="#666" stroke-width="1"/>
<text x="78.95" y="436.1" font-size="9.9" text-anchor="middle" textLength="14.7" lengthAdjust="spacingAndGlyphs" fill="#1a1a1a" stroke="#1a1a1a" stroke-width="0.12">400</text>
<line x1="106.18" y1="423.8" x2="106.18" y2="426.6" stroke="#666" stroke-width="1"/>
<text x="106.18" y="436.1" font-size="9.9" text-anchor="middle" textLength="14.7" lengthAdjust="spacingAndGlyphs" fill="#1a1a1a" stroke="#1a1a1a" stroke-width="0.12">600</text>
<line x1="133.4" y1="423.8" x2="133.4" y2="426.6" stroke="#666" stroke-width="1"/>
<text x="133.4" y="436.1" font-size="9.9" text-anchor="middle" textLength="14.7" lengthAdjust="spacingAndGlyphs" fill="#1a1a1a" stroke="#1a1a1a" stroke-width="0.12">800</text>
<line x1="21.7" y1="423.8" x2="24.5" y2="423.8" stroke="#666" stroke-width="1"/>
<line x1="21.7" y1="400.3" x2="24.5" y2="400.3" stroke="#666" stroke-width="1"/>
<line x1="21.7" y1="376.8" x2="24.5" y2="376.8" stroke="#666" stroke-width="1"/>
<line x1="21.7" y1="353.3" x2="24.5" y2="353.3" stroke="#666" stroke-width="1"/>
<text x="78.95" y="447.4" font-size="8.6" font-weight="bold" text-anchor="middle" textLength="57.2" lengthAdjust="spacingAndGlyphs" fill="#1a1a1a" stroke="#1a1a1a" stroke-width="0.2">Activity (Bq)</text>
<clipPath id="c31"><rect x="159.4" y="345.9" width="108.85" height="77.9"/></clipPath>
<g clip-path="url(#c31)">
<line x1="210.8" y1="423.8" x2="210.8" y2="345.9" stroke="#3a3a3a" stroke-width="1.4" stroke-dasharray="4.43 1.92"/>
<line x1="237.6" y1="423.8" x2="237.6" y2="345.9" stroke="#ff1aff" stroke-width="1.3" stroke-dasharray="1.2 1.975"/>
<path d="M233.4,423.8V350H237.3V388.6H238V391.3H239V401.1H240.3V409.2H241.6V415.4H243.5V419H246V421.1H250V422.2H254V423.8V423.8" fill="none" stroke="#1f77b4" stroke-width="1" stroke-linejoin="miter"/>
<rect x="232.9" y="367" width="1" height="56.8" fill="#9cc4e3"/>
</g>
<rect x="227.35" y="349" width="34" height="18" fill="#fff"/>
<text x="230.15" y="361.7" font-size="11.6" textLength="28.4" lengthAdjust="spacingAndGlyphs" fill="#1a1a1a">0720</text>
<rect x="159.4" y="345.9" width="108.85" height="77.9" fill="none" stroke="#666" stroke-width="1"/>
<line x1="159.4" y1="423.8" x2="159.4" y2="426.6" stroke="#666" stroke-width="1"/>
<text x="159.4" y="436.1" font-size="9.9" text-anchor="middle" textLength="4.9" lengthAdjust="spacingAndGlyphs" fill="#1a1a1a" stroke="#1a1a1a" stroke-width="0.12">0</text>
<line x1="195.68" y1="423.8" x2="195.68" y2="426.6" stroke="#666" stroke-width="1"/>
<text x="195.68" y="436.1" font-size="9.9" text-anchor="middle" textLength="9.8" lengthAdjust="spacingAndGlyphs" fill="#1a1a1a" stroke="#1a1a1a" stroke-width="0.12">50</text>
<line x1="231.97" y1="423.8" x2="231.97" y2="426.6" stroke="#666" stroke-width="1"/>
<text x="231.97" y="436.1" font-size="9.9" text-anchor="middle" textLength="14.7" lengthAdjust="spacingAndGlyphs" fill="#1a1a1a" stroke="#1a1a1a" stroke-width="0.12">100</text>
<line x1="268.25" y1="423.8" x2="268.25" y2="426.6" stroke="#666" stroke-width="1"/>
<text x="268.25" y="436.1" font-size="9.9" text-anchor="middle" textLength="14.7" lengthAdjust="spacingAndGlyphs" fill="#1a1a1a" stroke="#1a1a1a" stroke-width="0.12">150</text>
<line x1="156.6" y1="423.8" x2="159.4" y2="423.8" stroke="#666" stroke-width="1"/>
<line x1="156.6" y1="402.05" x2="159.4" y2="402.05" stroke="#666" stroke-width="1"/>
<line x1="156.6" y1="380.3" x2="159.4" y2="380.3" stroke="#666" stroke-width="1"/>
<line x1="156.6" y1="358.55" x2="159.4" y2="358.55" stroke="#666" stroke-width="1"/>
<text x="213.82" y="447.4" font-size="8.6" font-weight="bold" text-anchor="middle" textLength="57.2" lengthAdjust="spacingAndGlyphs" fill="#1a1a1a" stroke="#1a1a1a" stroke-width="0.2">Activity (Bq)</text>
<clipPath id="c32"><rect x="293.5" y="345.9" width="108.9" height="77.9"/></clipPath>
<g clip-path="url(#c32)">
<line x1="310.6" y1="423.8" x2="310.6" y2="345.9" stroke="#3a3a3a" stroke-width="1.4" stroke-dasharray="4.43 1.92"/>
<line x1="328.8" y1="423.8" x2="328.8" y2="345.9" stroke="#ff1aff" stroke-width="1.3" stroke-dasharray="1.2 1.975"/>
<line x1="395.8" y1="423.8" x2="395.8" y2="345.9" stroke="#2ca02c" stroke-width="1.4" stroke-dasharray="1.2 1.975"/>
<path d="M326.8,423.8V391.3H328V349H329V402H330V413.6H331V418.1H332.5V421.1H335V423.8V423.8" fill="none" stroke="#1f77b4" stroke-width="1" stroke-linejoin="miter"/>
</g>
<rect x="361.5" y="349" width="34" height="18" fill="#fff"/>
<text x="364.3" y="361.7" font-size="11.6" textLength="28.4" lengthAdjust="spacingAndGlyphs" fill="#1a1a1a">0744</text>
<rect x="293.5" y="345.9" width="108.9" height="77.9" fill="none" stroke="#666" stroke-width="1"/>
<line x1="293.5" y1="423.8" x2="293.5" y2="426.6" stroke="#666" stroke-width="1"/>
<text x="293.5" y="436.1" font-size="9.9" text-anchor="middle" textLength="4.9" lengthAdjust="spacingAndGlyphs" fill="#1a1a1a" stroke="#1a1a1a" stroke-width="0.12">0</text>
<line x1="320.73" y1="423.8" x2="320.73" y2="426.6" stroke="#666" stroke-width="1"/>
<text x="320.73" y="436.1" font-size="9.9" text-anchor="middle" textLength="9.8" lengthAdjust="spacingAndGlyphs" fill="#1a1a1a" stroke="#1a1a1a" stroke-width="0.12">50</text>
<line x1="347.95" y1="423.8" x2="347.95" y2="426.6" stroke="#666" stroke-width="1"/>
<text x="347.95" y="436.1" font-size="9.9" text-anchor="middle" textLength="14.7" lengthAdjust="spacingAndGlyphs" fill="#1a1a1a" stroke="#1a1a1a" stroke-width="0.12">100</text>
<line x1="375.17" y1="423.8" x2="375.17" y2="426.6" stroke="#666" stroke-width="1"/>
<text x="375.17" y="436.1" font-size="9.9" text-anchor="middle" textLength="14.7" lengthAdjust="spacingAndGlyphs" fill="#1a1a1a" stroke="#1a1a1a" stroke-width="0.12">150</text>
<line x1="402.4" y1="423.8" x2="402.4" y2="426.6" stroke="#666" stroke-width="1"/>
<text x="402.4" y="436.1" font-size="9.9" text-anchor="middle" textLength="14.7" lengthAdjust="spacingAndGlyphs" fill="#1a1a1a" stroke="#1a1a1a" stroke-width="0.12">200</text>
<line x1="290.7" y1="423.8" x2="293.5" y2="423.8" stroke="#666" stroke-width="1"/>
<line x1="290.7" y1="396.3" x2="293.5" y2="396.3" stroke="#666" stroke-width="1"/>
<line x1="290.7" y1="368.8" x2="293.5" y2="368.8" stroke="#666" stroke-width="1"/>
<text x="347.95" y="447.4" font-size="8.6" font-weight="bold" text-anchor="middle" textLength="57.2" lengthAdjust="spacingAndGlyphs" fill="#1a1a1a" stroke="#1a1a1a" stroke-width="0.2">Activity (Bq)</text>
<clipPath id="c33"><rect x="428.4" y="345.9" width="109" height="77.9"/></clipPath>
<g clip-path="url(#c33)">
<line x1="457.6" y1="423.8" x2="457.6" y2="345.9" stroke="#3a3a3a" stroke-width="1.4" stroke-dasharray="4.43 1.92"/>
<line x1="459.4" y1="423.8" x2="459.4" y2="345.9" stroke="#ff1aff" stroke-width="1.3" stroke-dasharray="1.2 1.975"/>
<line x1="529.4" y1="423.8" x2="529.4" y2="345.9" stroke="#2ca02c" stroke-width="1.4" stroke-dasharray="1.2 1.975"/>
<path d="M457.1,423.8V397.6H458.2V349.4H459.6V392.2H461V409.2H462V418.1H463.5V421.1H466V423.8V423.8" fill="none" stroke="#1f77b4" stroke-width="1" stroke-linejoin="miter"/>
<rect x="457.2" y="398" width="0.9" height="25" fill="#a3c7e4"/>
</g>
<rect x="496.5" y="349" width="34" height="18" fill="#fff"/>
<text x="499.3" y="361.7" font-size="11.6" textLength="28.4" lengthAdjust="spacingAndGlyphs" fill="#1a1a1a">0787</text>
<rect x="428.4" y="345.9" width="109" height="77.9" fill="none" stroke="#666" stroke-width="1"/>
<line x1="428.4" y1="423.8" x2="428.4" y2="426.6" stroke="#666" stroke-width="1"/>
<text x="428.4" y="436.1" font-size="9.9" text-anchor="middle" textLength="4.9" lengthAdjust="spacingAndGlyphs" fill="#1a1a1a" stroke="#1a1a1a" stroke-width="0.12">0</text>
<line x1="457.58" y1="423.8" x2="457.58" y2="426.6" stroke="#666" stroke-width="1"/>
<text x="457.58" y="436.1" font-size="9.9" text-anchor="middle" textLength="9.8" lengthAdjust="spacingAndGlyphs" fill="#1a1a1a" stroke="#1a1a1a" stroke-width="0.12">20</text>
<line x1="486.77" y1="423.8" x2="486.77" y2="426.6" stroke="#666" stroke-width="1"/>
<text x="486.77" y="436.1" font-size="9.9" text-anchor="middle" textLength="9.8" lengthAdjust="spacingAndGlyphs" fill="#1a1a1a" stroke="#1a1a1a" stroke-width="0.12">40</text>
<line x1="515.95" y1="423.8" x2="515.95" y2="426.6" stroke="#666" stroke-width="1"/>
<text x="515.95" y="436.1" font-size="9.9" text-anchor="middle" textLength="9.8" lengthAdjust="spacingAndGlyphs" fill="#1a1a1a" stroke="#1a1a1a" stroke-width="0.12">60</text>
<line x1="425.6" y1="423.8" x2="428.4" y2="423.8" stroke="#666" stroke-width="1"/>
<line x1="425.6" y1="400.1" x2="428.4" y2="400.1" stroke="#666" stroke-width="1"/>
<line x1="425.6" y1="376.4" x2="428.4" y2="376.4" stroke="#666" stroke-width="1"/>
<line x1="425.6" y1="352.7" x2="428.4" y2="352.7" stroke="#666" stroke-width="1"/>
<text x="482.9" y="447.4" font-size="8.6" font-weight="bold" text-anchor="middle" textLength="57.2" lengthAdjust="spacingAndGlyphs" fill="#1a1a1a" stroke="#1a1a1a" stroke-width="0.2">Activity (Bq)</text>
<clipPath id="c34"><rect x="563.3" y="345.9" width="109.1" height="77.9"/></clipPath>
<g clip-path="url(#c34)">
<line x1="579.9" y1="423.8" x2="579.9" y2="345.9" stroke="#ff1aff" stroke-width="1.3" stroke-dasharray="1.2 1.975"/>
<line x1="594.5" y1="423.8" x2="594.5" y2="345.9" stroke="#3a3a3a" stroke-width="1.4" stroke-dasharray="4.43 1.92"/>
<line x1="658.2" y1="423.8" x2="658.2" y2="345.9" stroke="#2ca02c" stroke-width="1.4" stroke-dasharray="1.2 1.975"/>
<path d="M575.9,423.8V419.9H576.6V410H577.5V403.8H578.6V401.1H579.5V395.8H580.3V386H581.3V384.2H582.3V381.5H583.3V378.8H584.3V370.8H585.4V369.9H586.3V363.6H587V355.6H588V353.8H589V349.4H590.5V353.8H591.5V358.3H592.5V367.2H593.5V375.25H594.5V382.4H595.6V390.4H596.6V393.1H597.7V395.8H598.8V399.4H600V403.8H601V406.5H602V409.2H603.5V411.9H605V412.75H606.5V414.5H608V415.4H609.5V417.2H611V419H613V419.9H616V420.8H620V421.3H630V422.5H645V423.3H655V423.8V423.8" fill="none" stroke="#1f77b4" stroke-width="1" stroke-linejoin="miter"/>
</g>
<rect x="631.5" y="349" width="34" height="18" fill="#fff"/>
<text x="634.3" y="361.7" font-size="11.6" textLength="28.4" lengthAdjust="spacingAndGlyphs" fill="#1a1a1a">0821</text>
<rect x="563.3" y="345.9" width="109.1" height="77.9" fill="none" stroke="#666" stroke-width="1"/>
<line x1="563.3" y1="423.8" x2="563.3" y2="426.6" stroke="#666" stroke-width="1"/>
<text x="563.3" y="436.1" font-size="9.9" text-anchor="middle" textLength="4.9" lengthAdjust="spacingAndGlyphs" fill="#1a1a1a" stroke="#1a1a1a" stroke-width="0.12">0</text>
<line x1="590.57" y1="423.8" x2="590.57" y2="426.6" stroke="#666" stroke-width="1"/>
<text x="590.57" y="436.1" font-size="9.9" text-anchor="middle" textLength="9.8" lengthAdjust="spacingAndGlyphs" fill="#1a1a1a" stroke="#1a1a1a" stroke-width="0.12">25</text>
<line x1="617.85" y1="423.8" x2="617.85" y2="426.6" stroke="#666" stroke-width="1"/>
<text x="617.85" y="436.1" font-size="9.9" text-anchor="middle" textLength="9.8" lengthAdjust="spacingAndGlyphs" fill="#1a1a1a" stroke="#1a1a1a" stroke-width="0.12">50</text>
<line x1="645.12" y1="423.8" x2="645.12" y2="426.6" stroke="#666" stroke-width="1"/>
<text x="645.12" y="436.1" font-size="9.9" text-anchor="middle" textLength="9.8" lengthAdjust="spacingAndGlyphs" fill="#1a1a1a" stroke="#1a1a1a" stroke-width="0.12">75</text>
<line x1="672.4" y1="423.8" x2="672.4" y2="426.6" stroke="#666" stroke-width="1"/>
<text x="672.4" y="436.1" font-size="9.9" text-anchor="middle" textLength="14.7" lengthAdjust="spacingAndGlyphs" fill="#1a1a1a" stroke="#1a1a1a" stroke-width="0.12">100</text>
<line x1="560.5" y1="423.8" x2="563.3" y2="423.8" stroke="#666" stroke-width="1"/>
<line x1="560.5" y1="402.3" x2="563.3" y2="402.3" stroke="#666" stroke-width="1"/>
<line x1="560.5" y1="380.8" x2="563.3" y2="380.8" stroke="#666" stroke-width="1"/>
<line x1="560.5" y1="359.3" x2="563.3" y2="359.3" stroke="#666" stroke-width="1"/>
<text x="617.85" y="447.4" font-size="8.6" font-weight="bold" text-anchor="middle" textLength="57.2" lengthAdjust="spacingAndGlyphs" fill="#1a1a1a" stroke="#1a1a1a" stroke-width="0.2">Activity (Bq)</text>
<text x="32.5" y="8.9" font-size="11.2" textLength="23.4" lengthAdjust="spacingAndGlyphs" fill="#1a1a1a">liver</text>
<text transform="translate(9.8,270.1) rotate(-90)" x="0" y="0" font-size="12.4" textLength="85.8" lengthAdjust="spacingAndGlyphs" fill="#1a1a1a">Probability (-)</text>
<rect x="393.1" y="0.6" width="290.9" height="15.5" rx="1.8" ry="1.8" fill="#fff" fill-opacity="0.8" stroke="#cccccc" stroke-width="1"/>
<line x1="396" y1="7.9" x2="412.4" y2="7.9" stroke="#3a3a3a" stroke-width="1.4" stroke-dasharray="4.43 1.92"/>
<text x="419" y="10.7" font-size="8.6" fill="#1a1a1a">Measured</text>
<line x1="473.7" y1="7.8" x2="488" y2="7.8" stroke="#2ca02c" stroke-width="1.4" stroke-dasharray="1.2 1.975"/>
<text x="496.6" y="10.7" font-size="8.6" fill="#1a1a1a">PuO<tspan font-size="6" dy="1.6">2</tspan><tspan dy="-1.6"> - U</tspan></text>
<line x1="546" y1="7.8" x2="562.4" y2="7.8" stroke="#ff1aff" stroke-width="1.3" stroke-dasharray="1.2 1.975"/>
<text x="568.2" y="10.7" font-size="8.6" textLength="53" lengthAdjust="spacingAndGlyphs" fill="#1a1a1a">Pu-nitrate - U</text>
<rect x="637.2" y="5.1" width="16.6" height="5.9" fill="none" stroke="#1f77b4" stroke-width="1"/>
<text x="659.8" y="10.7" font-size="8.6" textLength="21.4" lengthAdjust="spacingAndGlyphs" fill="#1a1a1a">Urine</text>
</svg>
</body></html>
